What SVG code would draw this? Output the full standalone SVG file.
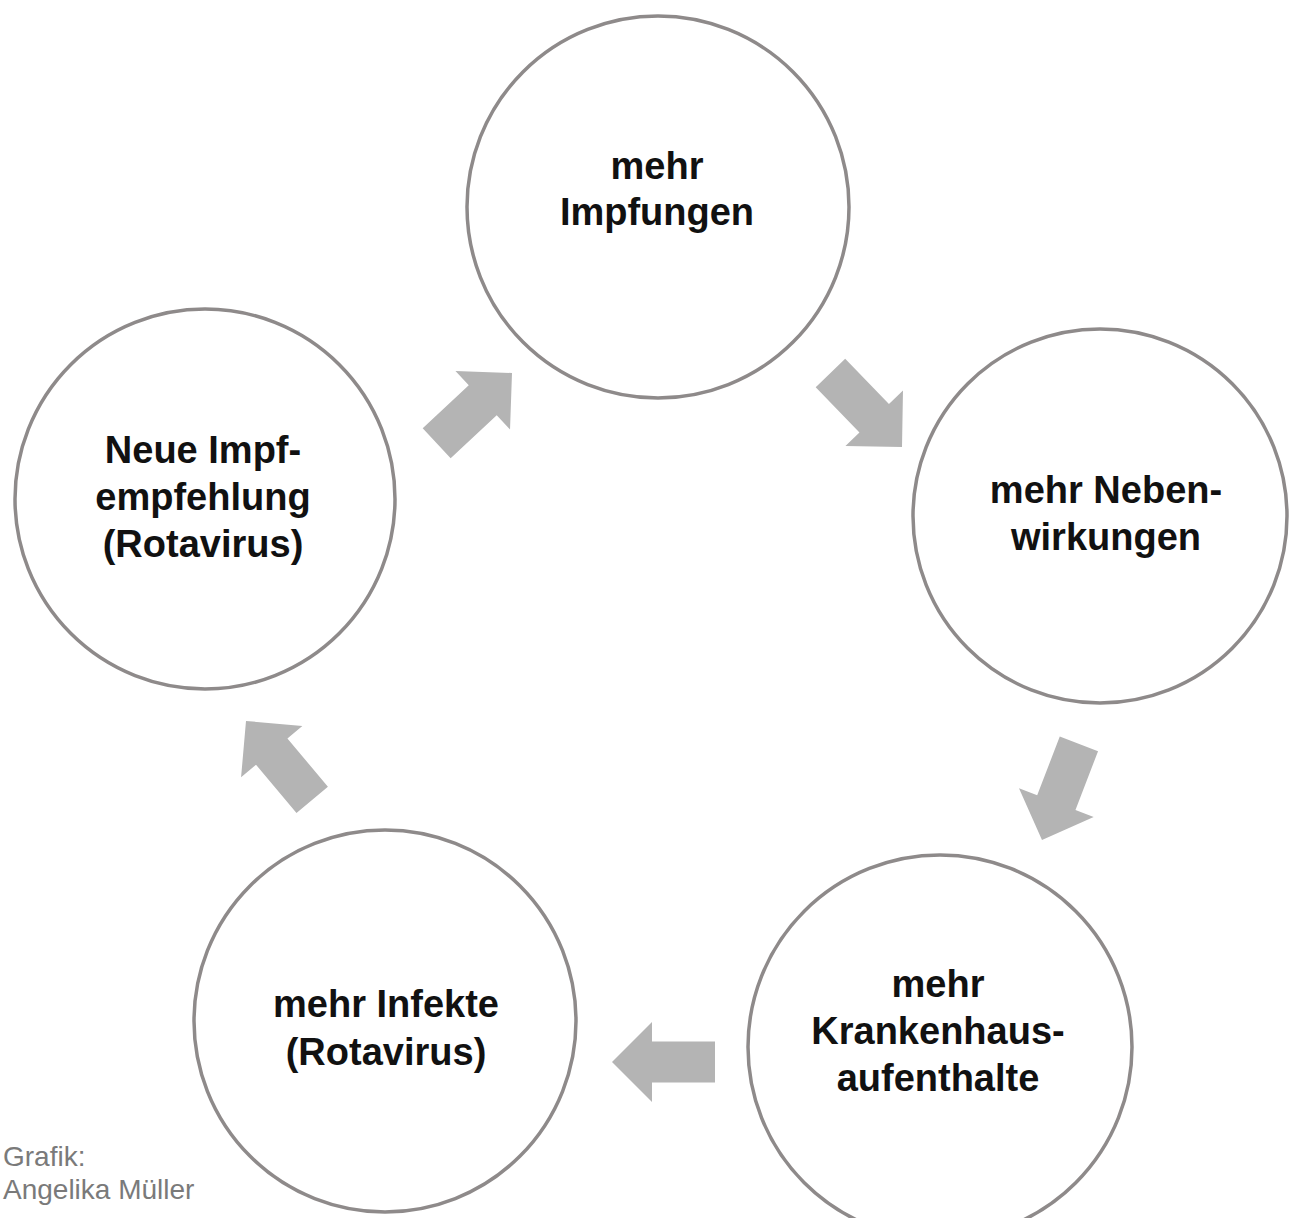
<svg xmlns="http://www.w3.org/2000/svg" width="1289" height="1218" viewBox="0 0 1289 1218">
  <style>
    .ring { fill: #ffffff; stroke: #8e8a8a; stroke-width: 3.5; }
    .lbl { font-family: "Liberation Sans", Arial, sans-serif; font-weight: bold; font-size: 38px; fill: #111111; text-anchor: middle; }
    .credit { font-family: "Liberation Sans", Arial, sans-serif; font-size: 28px; fill: #7a7a7a; }
    .arrow { fill: #b4b4b4; }
  </style>
  <defs>
    <path id="blockArrow" d="M0,0 L-40,-40 L-40,-20.5 L-103,-20.5 L-103,20.5 L-40,20.5 L-40,40 Z"/>
  </defs>
  <rect x="0" y="0" width="1289" height="1218" fill="#ffffff"/>

  <g id="node-impfungen">
    <circle class="ring" cx="658" cy="207" r="191"/>
    <text class="lbl" x="657" y="179">mehr</text>
    <text class="lbl" x="657" y="225">Impfungen</text>
  </g>

  <g id="node-nebenwirkungen">
    <circle class="ring" cx="1100" cy="516" r="187"/>
    <text class="lbl" x="1106" y="503">mehr Neben-</text>
    <text class="lbl" x="1106" y="550">wirkungen</text>
  </g>

  <g id="node-krankenhaus">
    <circle class="ring" cx="940" cy="1047" r="192"/>
    <text class="lbl" x="938" y="997">mehr</text>
    <text class="lbl" x="938" y="1044">Krankenhaus-</text>
    <text class="lbl" x="938" y="1091">aufenthalte</text>
  </g>

  <g id="node-infekte">
    <circle class="ring" cx="385" cy="1021" r="191"/>
    <text class="lbl" x="386" y="1017">mehr Infekte</text>
    <text class="lbl" x="386" y="1065">(Rotavirus)</text>
  </g>

  <g id="node-empfehlung">
    <circle class="ring" cx="205" cy="499" r="190"/>
    <text class="lbl" x="203" y="463">Neue Impf-</text>
    <text class="lbl" x="203" y="510">empfehlung</text>
    <text class="lbl" x="203" y="557">(Rotavirus)</text>
  </g>

  <g id="connectors">
    <use href="#blockArrow" class="arrow" transform="translate(512,373) rotate(-43)"/>
    <use href="#blockArrow" class="arrow" transform="translate(902,447) rotate(46)"/>
    <use href="#blockArrow" class="arrow" transform="translate(1042,840) rotate(111)"/>
    <use href="#blockArrow" class="arrow" transform="translate(612,1062) rotate(180)"/>
    <use href="#blockArrow" class="arrow" transform="translate(246,721) rotate(-130)"/>
  </g>

  <g id="credit">
    <text class="credit" x="3" y="1166">Grafik:</text>
    <text class="credit" x="3" y="1199">Angelika Müller</text>
  </g>
</svg>
